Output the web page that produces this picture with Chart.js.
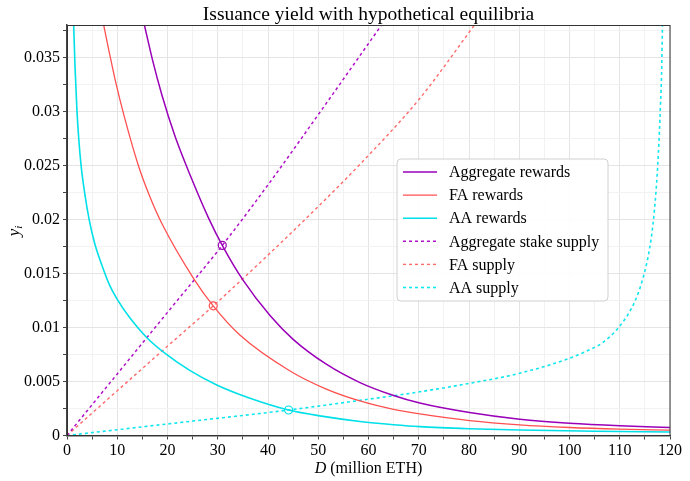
<!DOCTYPE html>
<html><head><meta charset="utf-8">
<script src="https://cdn.jsdelivr.net/npm/chart.js@4/dist/chart.umd.min.js"></script>
<style>html,body{margin:0;padding:0;background:#fff}</style>
</head><body>
<canvas id="c" width="690" height="481"></canvas>
<script>
// ---- data ----
const chartTitle = 'Issuance yield with hypothetical equilibria';
const seriesLabels = ['Aggregate rewards','FA rewards','AA rewards','Aggregate stake supply','FA supply','AA supply'];

const aggRewardX = [15.4, 17, 18.9, 21.5, 24.6, 28.2, 30.9, 35, 40.4, 45, 51.6, 58.3, 65, 70.2, 80.1, 90.1, 100, 110, 120];
const aggRewardY = [0.038, 0.0348, 0.0315, 0.0277, 0.0240, 0.0201, 0.0176, 0.0144, 0.0111, 0.0089, 0.0066, 0.0049, 0.0037, 0.0030, 0.00212, 0.0015, 0.00113, 0.0009, 0.00075];

const faRewardX = [7.3, 8.4, 9.6, 11.3, 14.2, 16.5, 18.8, 25.3, 29.1, 34.4, 44.3, 51.6, 58.3, 65, 70.2, 80.1, 90.1, 100, 110, 120];
const faRewardY = [0.038, 0.0355, 0.0329, 0.0297, 0.0250, 0.0221, 0.0197, 0.01446, 0.0120, 0.0093, 0.0060, 0.0043, 0.0032, 0.00242, 0.0020, 0.00138, 0.00098, 0.00074, 0.00059, 0.0005];

const aaRewardX = [1.33, 1.6, 1.99, 2.35, 2.8, 3.5, 4.4, 5.5, 7.0, 8.5, 10.0, 12.5, 15.8, 19.8, 24.5, 29.8, 36.0, 44.1, 51.0, 58.3, 65.0, 70.2, 80.0, 90.1, 105, 120];
const aaRewardY = [0.038, 0.0341, 0.030, 0.0274, 0.025, 0.0225, 0.0200, 0.0178, 0.0157, 0.0139, 0.0126, 0.0109, 0.0091, 0.0075, 0.0060, 0.00468, 0.00352, 0.00236, 0.00177, 0.0013, 0.0010, 0.00082, 0.00063, 0.00051, 0.00039, 0.00032];

const aggSupplyX = [0, 10, 20, 30.9, 40, 50, 62.6];
const aggSupplyY = [0, 0.0057, 0.0114, 0.0176, 0.0232, 0.0297, 0.038];

const faSupplyX = [0, 19.1, 29.1, 40, 50, 58.3, 70.2, 81.1];
const faSupplyY = [0, 0.0079, 0.0120, 0.0167, 0.0212, 0.0251, 0.0312, 0.038];

const aaSupplyX = [0, 18.5, 44.1, 58.3, 68.2, 80.1, 90.1, 100, 104.6, 106.6, 109.9, 113.0, 114.7, 115.9, 116.6, 117.2, 117.7, 118.1, 118.35, 118.5];
const aaSupplyY = [0, 0.00099, 0.00236, 0.00325, 0.0039, 0.00483, 0.00576, 0.00715, 0.00807, 0.0086, 0.01007, 0.0124, 0.0147, 0.0172, 0.0195, 0.0225, 0.0262, 0.0305, 0.034, 0.038];

const equilibriumX = [30.9, 29.1, 44.1];
const equilibriumY = [0.0176, 0.0120, 0.00236];

const xTickValues = [0,10,20,30,40,50,60,70,80,90,100,110,120];
const yTickValues = [0,0.005,0.01,0.015,0.02,0.025,0.03,0.035];

// ---- styling ----
const PURPLE = '#9a00b8', PURPLE_D = '#b010c8';
const RED = '#ff5050', RED_D = '#ff6a6a';
const CYAN = '#00e0e8', CYAN_D = '#10e6ee';
const SERIF = '"Liberation Serif", "Times New Roman", serif';

const pts = (xs, ys) => xs.map((x, i) => ({x, y: ys[i]}));

function lineDs(label, xs, ys, color, dashed, width) {
  return {
    label, data: pts(xs, ys), borderColor: color, backgroundColor: color,
    borderWidth: width, borderDash: dashed ? [3, 3] : [], pointRadius: 0,
    pointHoverRadius: 0, cubicInterpolationMode: 'monotone', fill: false
  };
}

const datasets = [
  lineDs(seriesLabels[0], aggRewardX, aggRewardY, PURPLE, false, 1.5),
  lineDs(seriesLabels[1], faRewardX, faRewardY, RED, false, 1.3),
  lineDs(seriesLabels[2], aaRewardX, aaRewardY, CYAN, false, 1.6),
  lineDs(seriesLabels[3], aggSupplyX, aggSupplyY, PURPLE_D, true, 1.5),
  lineDs(seriesLabels[4], faSupplyX, faSupplyY, RED_D, true, 1.4),
  lineDs(seriesLabels[5], aaSupplyX, aaSupplyY, CYAN_D, true, 1.6),
  {
    label: 'equilibria', data: pts(equilibriumX, equilibriumY), showLine: false,
    pointRadius: 4, pointBorderWidth: 1.2, pointBackgroundColor: '#ffffff',
    pointBorderColor: [PURPLE, RED, CYAN], pointHoverRadius: 4
  }
];

const decor = {
  id: 'decor',
  afterDatasetsDraw(chart) {
    const ctx = chart.ctx, a = chart.chartArea;
    ctx.save();
    // frame
    ctx.strokeStyle = '#333'; ctx.lineWidth = 1;
    ctx.strokeRect(a.left + 0.5, a.top + 0.5, a.right - a.left - 0.5, a.bottom - a.top - 0.5);
    // title
    ctx.fillStyle = '#000';
    ctx.font = '19.5px ' + SERIF;
    ctx.textAlign = 'center'; ctx.textBaseline = 'alphabetic';
    ctx.fillText(chartTitle, (a.left + a.right) / 2, 20);
    // x axis title
    const t1 = 'D', t2 = ' (million ETH)';
    ctx.font = 'italic 16px ' + SERIF; const w1 = ctx.measureText(t1).width;
    ctx.font = '16px ' + SERIF; const w2 = ctx.measureText(t2).width;
    let x0 = (a.left + a.right) / 2 - (w1 + w2) / 2;
    ctx.textAlign = 'left';
    ctx.font = 'italic 16px ' + SERIF; ctx.fillText(t1, x0, 473);
    ctx.font = '16px ' + SERIF; ctx.fillText(t2, x0 + w1, 473);
    // y axis title
    ctx.save();
    ctx.translate(19, (a.top + a.bottom) / 2);
    ctx.rotate(-Math.PI / 2);
    ctx.font = 'italic 17px ' + SERIF;
    const wy = ctx.measureText('y').width;
    ctx.fillText('y', -6, 0);
    ctx.font = 'italic 11px ' + SERIF;
    ctx.fillText('i', -6 + wy, 3);
    ctx.restore();
    // legend
    const bx = 397, by = 159, bw = 211, bh = 142, r = 4;
    ctx.beginPath();
    ctx.moveTo(bx + r, by); ctx.lineTo(bx + bw - r, by); ctx.quadraticCurveTo(bx + bw, by, bx + bw, by + r);
    ctx.lineTo(bx + bw, by + bh - r); ctx.quadraticCurveTo(bx + bw, by + bh, bx + bw - r, by + bh);
    ctx.lineTo(bx + r, by + bh); ctx.quadraticCurveTo(bx, by + bh, bx, by + bh - r);
    ctx.lineTo(bx, by + r); ctx.quadraticCurveTo(bx, by, bx + r, by);
    ctx.closePath();
    ctx.fillStyle = 'rgba(255,255,255,0.9)'; ctx.fill();
    ctx.strokeStyle = '#d0d0d0'; ctx.lineWidth = 1; ctx.stroke();
    ctx.font = '16px ' + SERIF; ctx.textBaseline = 'middle'; ctx.textAlign = 'left';
    for (let i = 0; i < 6; i++) {
      const ds = chart.data.datasets[i];
      const yy = 172 + i * 23.1;
      ctx.beginPath();
      ctx.setLineDash(ds.borderDash);
      ctx.strokeStyle = ds.borderColor; ctx.lineWidth = ds.borderWidth;
      ctx.moveTo(403, yy); ctx.lineTo(437, yy); ctx.stroke();
      ctx.setLineDash([]);
      ctx.fillStyle = '#000';
      ctx.fillText(ds.label, 449, yy + 1);
    }
    ctx.restore();
  }
};

new Chart(document.getElementById('c'), {
  type: 'line',
  data: { datasets },
  plugins: [decor],
  options: {
    responsive: false, animation: false, devicePixelRatio: 1,
    layout: { padding: { top: 25, right: 20, left: 0, bottom: 0 } },
    plugins: { legend: { display: false }, title: { display: false }, tooltip: { enabled: false } },
    events: [],
    scales: {
      x: {
        type: 'linear', min: 0, max: 120,
        afterBuildTicks(s) {
          const t = []; for (let v = 0; v <= 120; v += 5) t.push({ value: v }); s.ticks = t;
        },
        afterFit(s) { s.height = 45.5; },
        ticks: {
          autoSkip: false, maxRotation: 0, padding: 2, color: '#000',
          font: { family: SERIF, size: 16 },
          callback: v => (xTickValues.includes(v) ? String(v) : '')
        },
        grid: {
          color: c => (c.tick && c.tick.value % 10 === 0 ? '#e4e4e4' : '#f2f2f2'),
          tickColor: '#444', tickLength: 4, lineWidth: 1
        },
        border: { display: true, color: '#444', width: 1.5 }
      },
      y: {
        type: 'linear', min: 0, max: 0.038,
        afterBuildTicks(s) {
          const t = []; for (let k = 0; k <= 15; k++) t.push({ value: +(k * 0.0025).toFixed(4) }); s.ticks = t;
        },
        afterFit(s) { s.width = 67; },
        ticks: {
          autoSkip: false, padding: 3, color: '#000',
          font: { family: SERIF, size: 16 },
          callback: v => {
            const m = yTickValues.find(t => Math.abs(t - v) < 1e-9);
            return m === undefined ? '' : String(m);
          }
        },
        grid: {
          color: c => (c.tick && Math.abs((c.tick.value / 0.005) - Math.round(c.tick.value / 0.005)) < 1e-6 ? '#e4e4e4' : '#f2f2f2'),
          tickColor: '#444', tickLength: 4, lineWidth: 1
        },
        border: { display: true, color: '#444', width: 1.5 }
      }
    }
  }
});
</script>
</body></html>
